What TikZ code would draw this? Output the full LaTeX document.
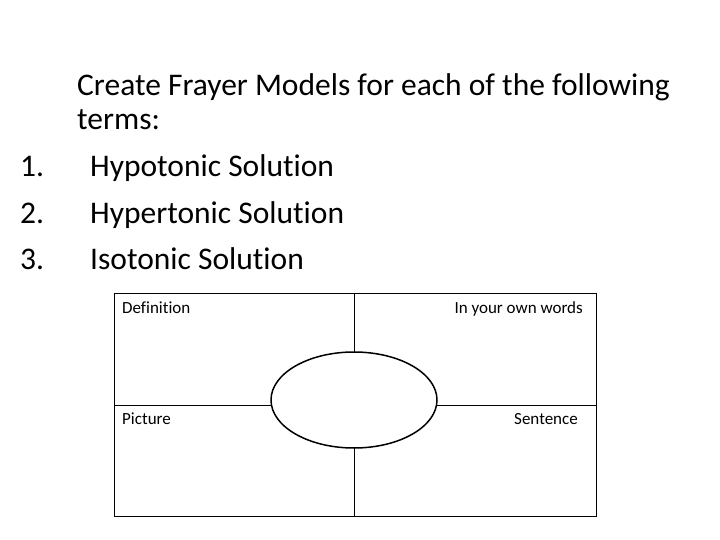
\documentclass[tikz,border=0pt]{standalone}
\usepackage{fontspec}
\setmainfont[Ligatures={NoCommon}]{Carlito}
\usetikzlibrary{shapes.geometric}
\begin{document}
\begin{tikzpicture}[x=1pt,y=-1pt,
  big/.style={anchor=base west,inner sep=0pt,font=\fontsize{31.5}{36}\selectfont},
  small/.style={inner sep=0pt,font=\fontsize{17}{20}\selectfont}]
\useasboundingbox (0,0) rectangle (720,540);
\node[big] (t1) at (77,96) {Create Frayer Models for each of the following};
\node[big] (t2) at (77,130) {terms:};
\node[big] (n1) at (20,177) {\makebox[70pt][l]{1.}Hypotonic Solution};
\node[big] (n2) at (20,223) {\makebox[70pt][l]{2.}Hypertonic Solution};
\node[big] (n3) at (20,269) {\makebox[70pt][l]{3.}Isotonic Solution};
\draw[line width=1pt] (114,293) rectangle (596,516);
\coordinate (ml) at (114,405); \coordinate (mr) at (596,405);
\coordinate (mt) at (354,293); \coordinate (mb) at (354,516);
\draw[line width=1pt] (ml) -- (mr) (mt) -- (mb);
\node[draw,line width=1.5pt,fill=white,ellipse,minimum width=166pt,minimum height=96pt,inner sep=0pt] (e) at (354,400) {};
\node[small,anchor=base west] (d) at (122,313) {Definition};
\node[small,anchor=base east] (w) at (583,313) {In your own words};
\node[small,anchor=base west] (p) at (122,424) {Picture};
\node[small,anchor=base east] (s) at (578,424) {Sentence};
\end{tikzpicture}
\end{document}
